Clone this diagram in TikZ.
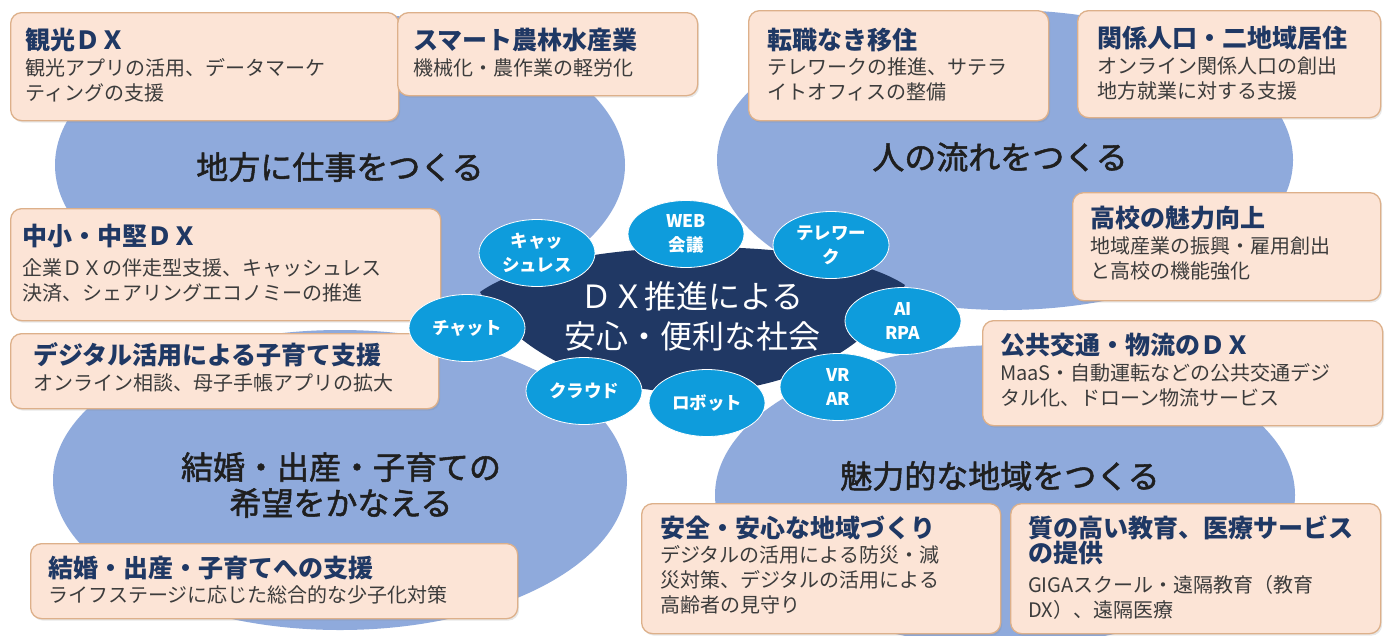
\documentclass[tikz,border=0pt]{standalone}
\usepackage{fontspec}
\setmainfont{Noto Sans CJK JP}
\newfontfamily\medfont{Noto Sans CJK JP}[FakeBold=1.6]
\usetikzlibrary{shapes.geometric,shadows}
\definecolor{bigblue}{HTML}{8FAADC}
\definecolor{navy}{HTML}{203864}
\definecolor{bub}{HTML}{0E9CDC}
\definecolor{cardfill}{HTML}{FCE4D6}
\definecolor{cardline}{HTML}{DDB08A}
\definecolor{ttlcol}{HTML}{1F3864}
\definecolor{bodycol}{HTML}{3C3C3C}
\tikzset{
 card/.style={draw=cardline, fill=cardfill, line width=1.3pt, rounded corners=11pt,
   drop shadow={opacity=0.18, shadow xshift=1.5pt, shadow yshift=-2pt}},
 ttl/.style={font=\fontsize{25}{25}\selectfont\bfseries, text=ttlcol, inner sep=0pt, anchor=base west},
 bdy/.style={font=\fontsize{20}{25}\selectfont, text=bodycol, inner sep=0pt, anchor=base west},
 big/.style={font=\medfont\fontsize{32}{36}\selectfont, text=black!88, inner sep=0pt, align=center},
 bubble/.style={ellipse, fill=bub, draw=white, line width=0.8pt, minimum width=116pt,
   minimum height=67pt, inner sep=0pt, text=white, font=\fontsize{17.5}{24}\selectfont\bfseries, align=center},
 blob/.style={fill=bigblue},
}
\newcommand\card[5]{\node[card, anchor=north west, minimum width={(#4-#2)*1pt}, minimum height={(#5-#3)*1pt}] (#1) at (#2,#3) {};}
\newcommand\txtlines[5]{\foreach \l [count=\i from 0] in {#5} {\node[#2] (#1-\i) at (#3,{#4+25*\i}) {\l};}}
\begin{document}
\begin{tikzpicture}[x=1pt,y=-1pt]
\useasboundingbox (0,0) rectangle (1388,635);
\fill[white] (0,0) rectangle (1388,635);
% big regions
\fill[blob] (340,165) ellipse [x radius=285, y radius=152];
\fill[blob] (1005,160) ellipse [x radius=288, y radius=150];
\fill[blob] (340,480) ellipse [x radius=287, y radius=150];
\fill[blob] (1005,495) ellipse [x radius=290, y radius=150];
\node[big] (g1) at (340,167) {地方に仕事をつくる};
\node[big] (g2) at (1000,157) {人の流れをつくる};
\node[big] (g3) at (341,485) {結婚・出産・子育ての\\希望をかなえる};
\node[big] (g4) at (1000,476) {魅力的な地域をつくる};
% core
\fill[navy] (480,292) .. controls (560,235) and (825,232) .. (905,285) .. controls (830,427) and (560,427) .. (480,292) -- cycle;
\node[font=\fontsize{32}{40}\selectfont, text=white, align=center, inner sep=0pt] (core) at (692,316) {ＤＸ推進による\\安心・便利な社会};
% cards
\card{k1}{10}{12}{398}{120}
\txtlines{k1t}{ttl}{25}{49.5}{観光ＤＸ}
\txtlines{k1b}{bdy}{25}{75.6}{観光アプリの活用、データマーケ,ティングの支援}
\card{k2}{397}{12}{697}{95}
\txtlines{k2t}{ttl}{413}{49.5}{スマート農林水産業}
\txtlines{k2b}{bdy}{413}{75.6}{機械化・農作業の軽労化}
\card{k3}{748}{10}{1048}{120}
\txtlines{k3t}{ttl}{767}{49.5}{転職なき移住}
\txtlines{k3b}{bdy}{767}{74.6}{テレワークの推進、サテラ,イトオフィスの整備}
\card{k4}{1077}{10}{1380}{117}
\txtlines{k4t}{ttl}{1097}{47.5}{関係人口・二地域居住}
\txtlines{k4b}{bdy}{1097}{73.6}{オンライン関係人口の創出,地方就業に対する支援}
\card{k5}{10}{208}{440}{320}
\txtlines{k5t}{ttl}{22}{245.5}{中小・中堅ＤＸ}
\txtlines{k5b}{bdy}{22}{275.6}{企業ＤＸの伴走型支援、キャッシュレス,決済、シェアリングエコノミーの推進}
\card{k6}{10}{333}{438}{408}
\txtlines{k6t}{ttl}{33}{364.5}{デジタル活用による子育て支援}
\txtlines{k6b}{bdy}{33}{390.6}{オンライン相談、母子手帳アプリの拡大}
\card{k7}{30}{543}{517}{618}
\txtlines{k7t}{ttl}{48}{577.5}{結婚・出産・子育てへの支援}
\txtlines{k7b}{bdy}{48}{602.6}{ライフステージに応じた総合的な少子化対策}
\card{k8}{1072}{192}{1380}{300}
\txtlines{k8t}{ttl}{1090}{227.5}{高校の魅力向上}
\txtlines{k8b}{bdy}{1090}{253.6}{地域産業の振興・雇用創出,と高校の機能強化}
\card{k9}{982}{320}{1382}{425}
\txtlines{k9t}{ttl}{1000}{354.5}{公共交通・物流のＤＸ}
\txtlines{k9b}{bdy}{1000}{380.6}{MaaS・自動運転などの公共交通デジ,タル化、ドローン物流サービス}
\card{k10}{641}{503}{1000}{633}
\txtlines{k10t}{ttl}{660}{537.5}{安全・安心な地域づくり}
\txtlines{k10b}{bdy}{660}{562.6}{デジタルの活用による防災・減,災対策、デジタルの活用による,高齢者の見守り}
\card{k11}{1010}{503}{1380}{633}
\txtlines{k11t}{ttl}{1028}{537.5}{質の高い教育、医療サービス,の提供}
\txtlines{k11b}{bdy}{1028}{592.6}{GIGAスクール・遠隔教育（教育,DX）、遠隔医療}
% bubbles
\node[bubble] (b1) at (537,253) {キャッ\\シュレス};
\node[bubble] (b2) at (686,234) {WEB\\会議};
\node[bubble] (b3) at (831,245) {テレワー\\ク};
\node[bubble] (b4) at (903,321) {AI\\RPA};
\node[bubble] (b5) at (838,387) {VR\\AR};
\node[bubble] (b6) at (707,403) {ロボット};
\node[bubble] (b7) at (584,391) {クラウド};
\node[bubble] (b8) at (467,328) {チャット};
\end{tikzpicture}
\end{document}
